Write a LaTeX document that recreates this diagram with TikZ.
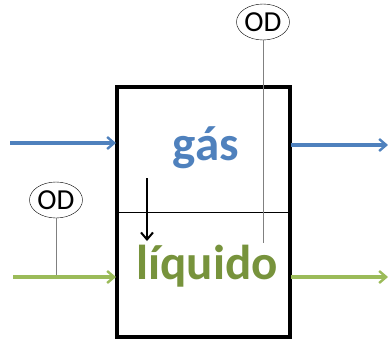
\documentclass[tikz,border=0pt]{standalone}
\usepackage{fontspec}
\setmainfont{Carlito}
\usetikzlibrary{arrows.meta,shapes.geometric}
\definecolor{gasblue}{HTML}{4F81BD}
\definecolor{liqgreen}{HTML}{77933C}
\definecolor{arrgreen}{HTML}{9BBB59}
\newcommand{\odlabel}{\smash{\makebox[0pt]{OD}}}
\tikzset{
  flow/.style={line width=3.2pt,-{Straight Barb[length=7pt,width=12pt,line width=2.4pt]}},
  odnode/.style={draw,ellipse,minimum width=53pt,minimum height=36pt,inner sep=0pt,font=\fontsize{29}{29}\selectfont},
  probe/.style={draw=gray,line width=1pt},
}
\begin{document}
\begin{tikzpicture}[x=1pt,y=-1pt]
\useasboundingbox (0,0) rectangle (388,340);
% vessel
\draw[line width=3.2pt] (117,87) rectangle (290,337);
\draw[line width=0.9pt] (117,212) -- (290,212);
% texts
\node[font=\bfseries\fontsize{49}{49}\selectfont,text=gasblue] (gas) at (206,148) {gás};
\node[font=\bfseries\fontsize{49}{49}\selectfont,text=liqgreen] (liq) at (207,266) {líquido};
% coordinates
\coordinate (bin) at (10,143);
\coordinate (bin2) at (116,143);
\coordinate (bout) at (291,145);
\coordinate (bout2) at (388,145);
\coordinate (gin) at (13,277);
\coordinate (gin2) at (116,277);
\coordinate (gout) at (291,277);
\coordinate (gout2) at (388,277);
\coordinate (dtop) at (147,178);
\coordinate (dbot) at (147,241);
% OD probes
\node[odnode] (od1) at (263,22) {};
\node[font=\fontsize{29}{29}\selectfont,inner sep=0pt] (od1t) at (od1.center) {OD};
\coordinate (od1end) at (264,243);
\draw[probe] (od1.south) -- (od1.south |- od1end);
\node[odnode] (od2) at (56,200) {};
\node[font=\fontsize{29}{29}\selectfont,inner sep=0pt] (od2t) at (od2.center) {OD};
\coordinate (od2end) at (56,277);
\draw[probe] (od2.south) -- (od2end);
% flows
\draw[flow,draw=gasblue] (bin) -- (bin2);
\draw[flow,draw=gasblue] (bout) -- (bout2);
\draw[flow,draw=arrgreen] (gin) -- (gin2);
\draw[flow,draw=arrgreen] (gout) -- (gout2);
\draw[line width=2.4pt,-{Straight Barb[length=7pt,width=12pt,line width=2pt]}] (dtop) -- (dbot);
\end{tikzpicture}
\end{document}
